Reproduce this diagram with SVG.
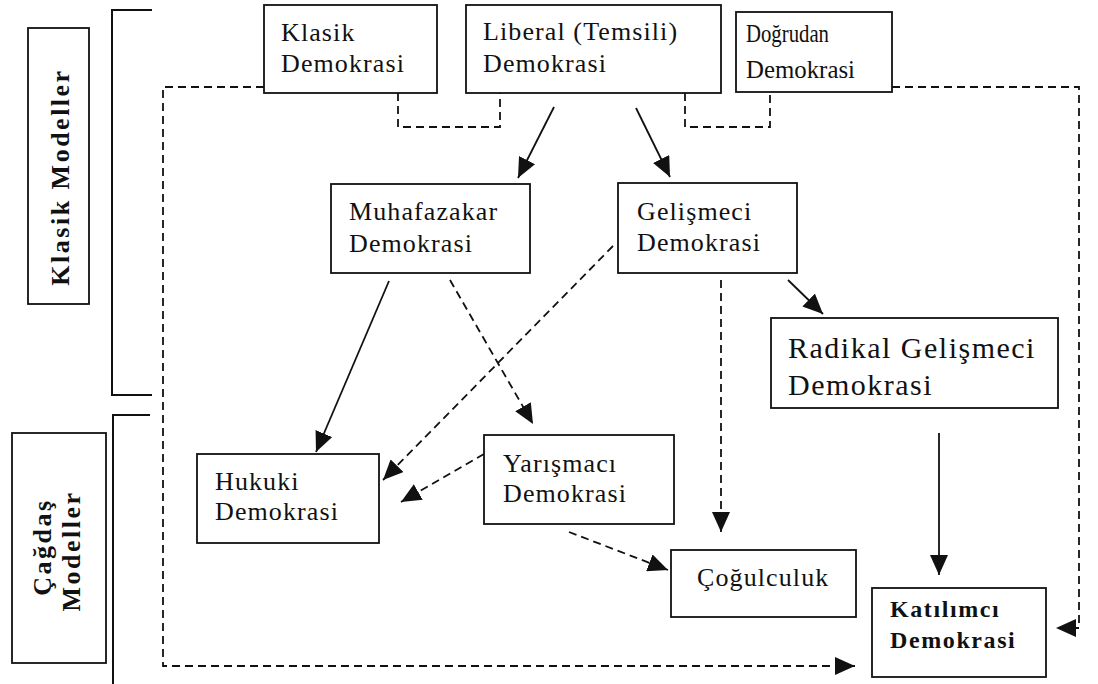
<svg xmlns="http://www.w3.org/2000/svg" width="1098" height="684" viewBox="0 0 1098 684">
<style>
.box{fill:#fff;stroke:#111;stroke-width:1.8}
.t{font-family:"Liberation Serif","Times New Roman",serif;font-size:26px;fill:#111;letter-spacing:1.1px}
.cond{font-size:25px;letter-spacing:0}
.big{font-size:30px;letter-spacing:1.5px}
.bold{font-weight:bold;font-size:24px;letter-spacing:1.6px}
.side{font-weight:bold;font-size:26px;letter-spacing:2.5px}
.c{fill:none;stroke:#111;stroke-width:1.8}
.d{stroke-dasharray:8 5}
.br{fill:none;stroke:#111;stroke-width:2}
</style>
<defs>
<marker id="ah" markerUnits="userSpaceOnUse" markerWidth="22" markerHeight="18" refX="20" refY="9" orient="auto">
<path d="M0,0 L20,9 L0,18 Z" fill="#111"/>
</marker>
</defs>
<rect width="1098" height="684" fill="#fff"/>

<g id="klasik-modeller">
<rect class="box" x="28" y="28" width="61" height="276"/>
<text class="t side" transform="translate(69,177) rotate(-90)" text-anchor="middle">Klasik Modeller</text>
</g>
<g id="cagdas-modeller">
<rect class="box" x="12" y="433" width="94" height="230"/>
<text class="t side" transform="translate(51,547) rotate(-90)" text-anchor="middle">Çağdaş</text>
<text class="t side" transform="translate(80,551) rotate(-90)" text-anchor="middle">Modeller</text>
</g>
<g id="brackets">
<path class="br" d="M152,10 L112,10 L112,395 L152,395"/>
<path class="br" d="M150,415 L113,415 L113,684"/>
</g>

<g id="connectors">
<path class="c d" d="M264,87 L163,87 L163,666 L855,666" marker-end="url(#ah)"/>
<path class="c d" d="M892,87 L1079,87 L1079,628 L1056,628" marker-end="url(#ah)"/>
<path class="c d" d="M398,93 L398,127 L500,127 L500,93"/>
<path class="c d" d="M685,93 L685,127 L770,127 L770,92"/>
<path class="c" d="M554,107 L518,178" marker-end="url(#ah)"/>
<path class="c" d="M636,108 L670,177" marker-end="url(#ah)"/>
<path class="c" d="M788,280 L823,314" marker-end="url(#ah)"/>
<path class="c" d="M389,281 L316,452" marker-end="url(#ah)"/>
<path class="c d" d="M450,280 L533,424" marker-end="url(#ah)"/>
<path class="c d" d="M613,246 L383,480" marker-end="url(#ah)"/>
<path class="c d" d="M484,454 L401,502" marker-end="url(#ah)"/>
<path class="c d" d="M569,532 L668,570" marker-end="url(#ah)"/>
<path class="c d" d="M721,280 L721,532" marker-end="url(#ah)"/>
<path class="c" d="M939,433 L939,575" marker-end="url(#ah)"/>
</g>

<g id="klasik">
<rect class="box" x="264" y="5" width="173" height="88"/>
<text class="t" x="281" y="41">Klasik</text>
<text class="t" x="281" y="72">Demokrasi</text>
</g>
<g id="liberal">
<rect class="box" x="466" y="5" width="255" height="88"/>
<text class="t" x="483" y="40">Liberal (Temsili)</text>
<text class="t" x="483" y="72">Demokrasi</text>
</g>
<g id="dogrudan">
<rect class="box" x="736" y="12" width="156" height="80"/>
<text class="t cond" x="746" y="42" textLength="83" lengthAdjust="spacingAndGlyphs">Doğrudan</text>
<text class="t cond" x="746" y="78" textLength="109" lengthAdjust="spacingAndGlyphs">Demokrasi</text>
</g>
<g id="muhafazakar">
<rect class="box" x="331" y="184" width="199" height="89"/>
<text class="t" x="349" y="220">Muhafazakar</text>
<text class="t" x="349" y="252">Demokrasi</text>
</g>
<g id="gelismeci">
<rect class="box" x="618" y="183" width="179" height="90"/>
<text class="t" x="637" y="220">Gelişmeci</text>
<text class="t" x="637" y="251">Demokrasi</text>
</g>
<g id="radikal">
<rect class="box" x="771" y="318" width="287" height="90"/>
<text class="t big" x="788" y="358">Radikal Gelişmeci</text>
<text class="t big" x="788" y="395">Demokrasi</text>
</g>
<g id="hukuki">
<rect class="box" x="197" y="454" width="182" height="89"/>
<text class="t" x="215" y="490">Hukuki</text>
<text class="t" x="215" y="520">Demokrasi</text>
</g>
<g id="yarismaci">
<rect class="box" x="484" y="435" width="190" height="89"/>
<text class="t" x="503" y="472">Yarışmacı</text>
<text class="t" x="503" y="502">Demokrasi</text>
</g>
<g id="cogulculuk">
<rect class="box" x="671" y="550" width="185" height="67"/>
<text class="t" x="697" y="586">Çoğulculuk</text>
</g>
<g id="katilimci">
<rect class="box" x="872" y="588" width="174" height="89"/>
<text class="t bold" x="890" y="617">Katılımcı</text>
<text class="t bold" x="890" y="648">Demokrasi</text>
</g>
</svg>
